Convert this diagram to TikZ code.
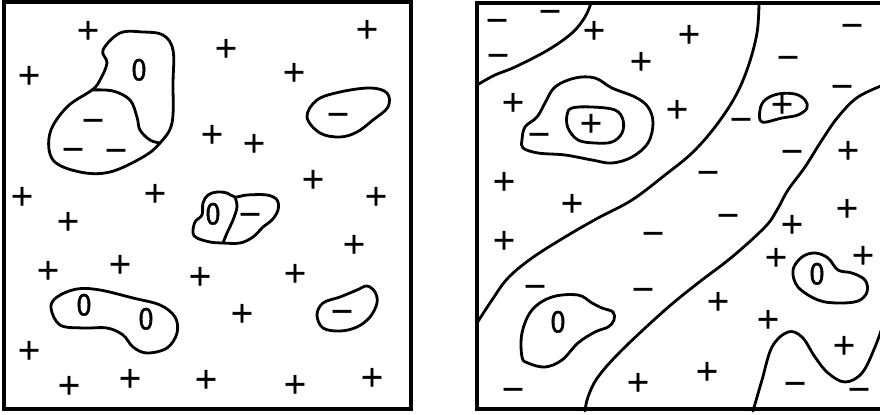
\documentclass[tikz,border=0pt]{standalone}
\usepackage{fontspec}
\newfontfamily\signfont[FakeBold=1.6]{DejaVu Sans}
\begin{document}
\begin{tikzpicture}[x=0.5pt,y=-0.5pt,
  sign/.style={font=\signfont\fontsize{14.5}{15}\selectfont,inner sep=0pt,text height=0.64em,text depth=0pt},
  frame/.style={line width=1.6pt},
  edge/.style={line width=1.4pt,line join=round,line cap=round}]
\useasboundingbox (0,0) rectangle (880,414);
\clip (0,0) rectangle (880,414);

% left square
\draw[frame] (4,2) rectangle (411,409);

\draw[edge] plot[smooth cycle,tension=0.6] coordinates {(103,50) (107,63) (100,80) (92,90) (67,107) (50,133) (53,160) (80,172) (110,172) (143,157) (160,143) (172,123) (173,83) (173,50) (163,35) (143,32) (120,33)};
\draw[edge] plot[smooth,tension=0.6] coordinates {(92,90) (113,91) (130,100) (137,117) (140,130) (150,140) (160,143)};

\draw[edge] plot[smooth cycle,tension=0.6] coordinates {(307,117) (317,100) (340,92) (370,88) (387,93) (388,107) (373,120) (357,132) (340,137) (320,133)};

\draw[edge] plot[smooth cycle,tension=0.6] coordinates {(193,233) (195,222) (202,215) (203,203) (208,195) (217,192) (227,193) (235,197) (247,195) (267,195) (277,200) (278,210) (272,220) (263,227) (253,237) (240,243) (223,243) (210,242) (197,238)};
\draw[edge] plot[smooth,tension=0.6] coordinates {(235,197) (237,207) (233,220) (227,233) (223,243)};

\draw[edge] plot[smooth cycle,tension=0.6] coordinates {(51,308) (57,297) (77,289) (100,290) (133,298) (160,305) (175,317) (177,333) (167,348) (147,353) (133,347) (123,335) (107,328) (83,328) (60,325)};

\draw[edge] plot[smooth cycle,tension=0.6] coordinates {(317,315) (323,303) (340,297) (357,290) (367,286) (375,292) (377,303) (370,317) (357,327) (340,331) (323,328)};

\foreach \x/\y [count=\i] in {88/33,226/51,367/32,29/78,294/75,212/137,254/146,22/199,155/196,313/182,376/199,68/224,354/247,48/273,120/267,200/279,295/276,242/316,29/353,69/388,130/381,206/382,295/387,372/380}
  \node[sign] (lp\i) at (\x,\y) {+};
\foreach \x/\y [count=\i] in {93/123,73/152,116/153,338/117,250/217,342/314}
  \node[sign] (lm\i) at (\x,\y) {−};
\foreach \x/\y [count=\i] in {139/74,213/218,84/309,146/323}
  \node[sign] (lz\i) at (\x,\y) {\scalebox{0.85}[1]{0}};

% right square
\draw[frame] (477,3) rectangle (890,409);

\draw[edge] plot[smooth,tension=0.6] coordinates {(591,3) (585,17) (572,33) (548,50) (515,67) (495,75) (477,85)};
\draw[edge] plot[smooth,tension=0.6] coordinates {(759,3) (757,33) (748,67) (735,97) (715,127) (692,153) (665,175) (632,200) (598,218) (565,237) (532,258) (508,278) (492,300) (477,323)};
\draw[edge] plot[smooth,tension=0.6] coordinates {(886,84) (858,97) (838,117) (822,140) (805,167) (788,190) (777,210) (765,227) (732,257) (698,283) (665,310) (622,350) (598,377) (588,397) (585,411)};
\draw[edge] plot[smooth,tension=0.6] coordinates {(753,411) (762,380) (772,347) (788,332) (802,337) (815,357) (828,373) (845,382) (862,373) (875,347) (884,322)};

\draw[edge] plot[smooth cycle,tension=0.6] coordinates {(522,140) (525,127) (537,117) (545,103) (555,87) (575,78) (595,78) (612,88) (635,97) (648,107) (653,123) (648,143) (632,157) (612,163) (592,160) (565,155) (538,153) (523,148)};
\draw[edge] plot[smooth cycle,tension=0.6] coordinates {(567,115) (572,108) (592,107) (615,110) (623,120) (622,133) (612,142) (595,143) (578,140) (568,128)};
\draw[edge] plot[smooth cycle,tension=0.6] coordinates {(762,122) (760,110) (765,100) (778,94) (795,94) (805,100) (807,108) (798,115) (782,118)};
\draw[edge] plot[smooth cycle,tension=0.6] coordinates {(522,357) (522,333) (532,310) (552,297) (578,295) (592,303) (602,308) (613,312) (614,320) (608,327) (595,332) (578,343) (562,360) (545,367) (528,363)};
\draw[edge] plot[smooth cycle,tension=0.6] coordinates {(798,287) (793,270) (802,257) (815,253) (828,258) (838,270) (852,273) (865,280) (867,292) (858,301) (838,303) (818,300)};

\foreach \x/\y [count=\i] in {594/33,641/64,689/37,513/105,591/126,677/112,782/107,504/184,572/206,504/243,848/153,847/211,792/227,776/260,863/258,718/304,768/322,844/348,707/374,638/385}
  \node[sign] (rp\i) at (\x,\y) {+};
\foreach \x/\y [count=\i] in {497/23,550/14,498/58,539/137,852/28,788/60,842/89,741/122,792/154,708/175,653/236,728/218,535/289,643/292,513/392,795/386,859/392}
  \node[sign] (rm\i) at (\x,\y) {−};
\foreach \x/\y [count=\i] in {558/326,817/278}
  \node[sign] (rz\i) at (\x,\y) {\scalebox{0.85}[1]{0}};
\end{tikzpicture}
\end{document}
